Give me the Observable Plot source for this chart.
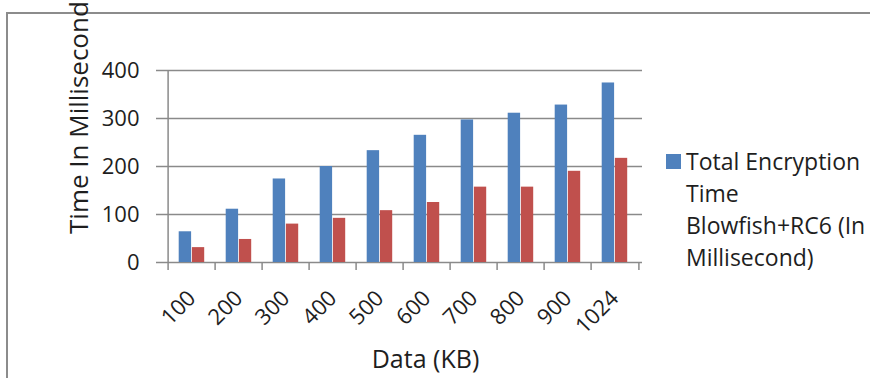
<!DOCTYPE html>
<html>
<head>
<meta charset="utf-8">
<script src="https://cdn.jsdelivr.net/npm/d3@7"></script>
<script src="https://cdn.jsdelivr.net/npm/@observablehq/plot@0.6"></script>
<style>
  html, body { margin: 0; padding: 0; background: #ffffff; }
  #wrap { position: relative; width: 870px; height: 378px; overflow: hidden; font-family: "Open Sans", sans-serif; color: #1e1e1e; }
  #border { position: absolute; left: 6px; top: 12px; right: -10px; bottom: -10px; border-top: 2px solid #8c8c8c; border-left: 2px solid #8c8c8c; }
  #chart { position: absolute; left: 0; top: 0; }
  #legend { position: absolute; left: 666px; top: 145px; font-size: 23px; line-height: 32px; }
  #legend .sw { position: absolute; left: 0; top: 9px; width: 15px; height: 15px; background: #4F81BD; }
  #legend .txt { position: absolute; left: 20px; top: 0; white-space: nowrap; }
</style>
</head>
<body>
<div id="wrap">
  <div id="border"></div>
  <div id="chart"></div>
  <div id="legend"><div class="sw"></div><div class="txt" id="legendText"></div></div>
</div>
<script>
// ---- data ----
const categories = ["100", "200", "300", "400", "500", "600", "700", "800", "900", "1024"];
const blowfishRC6 = [64, 111, 174, 200, 233, 265, 297, 311, 328, 374];
const secondSeries = [31, 48, 80, 92, 108, 125, 157, 157, 190, 217];
const yTicks = [0, 100, 200, 300, 400];
const legendLines = ["Total Encryption", "Time", "Blowfish+RC6 (In", "Millisecond)"];
const xTitle = "Data (KB)";
const yTitle = "Time In Millisecond";

const blue = "#4F81BD";
const red = "#C0504D";
const gridColor = "#8a8a8a";
const textColor = "#1e1e1e";

const rowsBlue = categories.map((c, i) => ({cat: c, value: blowfishRC6[i]}));
const rowsRed = categories.map((c, i) => ({cat: c, value: secondSeries[i]}));

const W = 870, H = 378, mL = 164, mR = 228, mT = 70, mB = 116;
const bw = (W - mL - mR) / categories.length;

const chart = Plot.plot({
  width: W,
  height: H,
  marginLeft: mL,
  marginRight: mR,
  marginTop: mT,
  marginBottom: mB,
  style: {fontFamily: "Open Sans, sans-serif", color: textColor, background: "transparent", overflow: "visible"},
  x: {domain: categories, padding: 0, label: null, axis: null},
  y: {domain: [0, 400], label: null, axis: null},
  marks: [
    Plot.ruleY(yTicks, {y: d => d, stroke: gridColor, strokeWidth: 1.5}),
    Plot.axisY({ticks: yTicks, tickSize: 8, tickPadding: 17, stroke: gridColor, strokeWidth: 1.5, fill: textColor, fontSize: 22, label: null}),
    Plot.barY(rowsBlue, {x: "cat", y: "value", fill: blue, insetLeft: 10.7, insetRight: bw - 23.9}),
    Plot.barY(rowsRed, {x: "cat", y: "value", fill: red, insetLeft: 23.9, insetRight: bw - 37}),
    Plot.ruleX([categories[0]], {x: d => d, dx: -bw / 2, y1: 400, y2: 0, stroke: gridColor, strokeWidth: 1.5}),
    Plot.ruleX(categories, {x: d => d, dx: -bw / 2, y1: 0, y2: 0, insetBottom: -8, stroke: gridColor, strokeWidth: 1.5}),
    Plot.ruleX([categories[categories.length - 1]], {x: d => d, dx: bw / 2, y1: 0, y2: 0, insetBottom: -8, stroke: gridColor, strokeWidth: 1.5}),
    Plot.axisX({tickSize: 0, tickPadding: 32, tickRotate: -45, fill: textColor, fontSize: 22, label: null}),
    Plot.text([xTitle], {text: d => d, frameAnchor: "bottom", dx: 22, dy: 97, fontSize: 25, fill: textColor, textAnchor: "middle", lineAnchor: "middle"}),
    Plot.text([yTitle], {text: d => d, frameAnchor: "bottom-left", dx: -85.3, dy: -28.5, rotate: -90, fontSize: 26, fill: textColor, textAnchor: "start", lineAnchor: "middle"})
  ]
});
document.getElementById("chart").appendChild(chart);
document.getElementById("legendText").innerHTML = legendLines.map(s => `<div>${s}</div>`).join("");
</script>
</body>
</html>
